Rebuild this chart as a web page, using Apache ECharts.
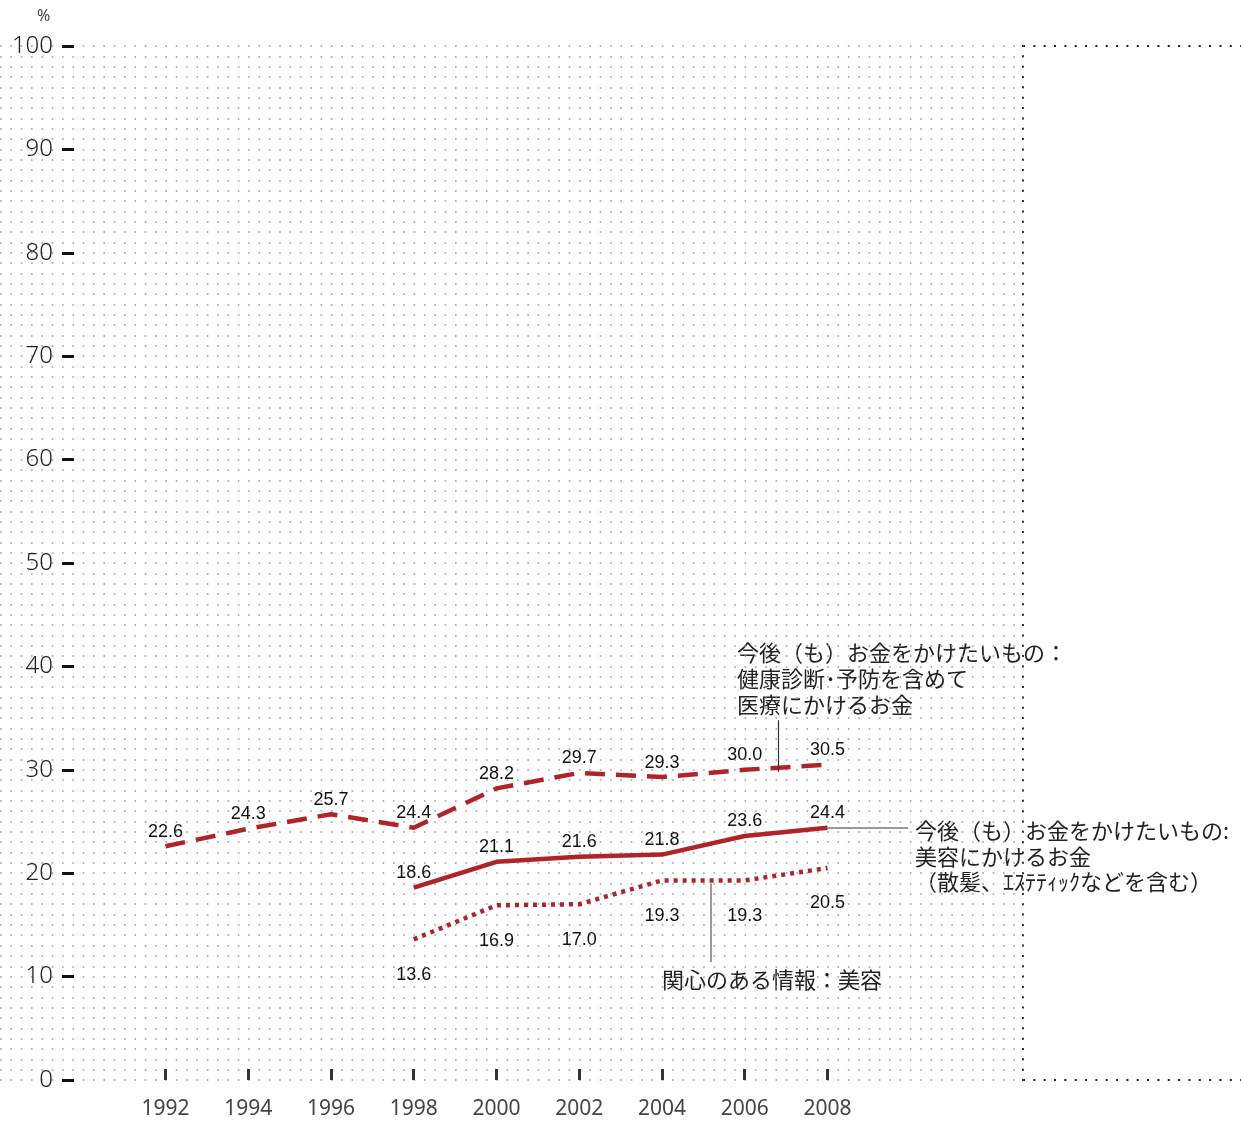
<!DOCTYPE html>
<html>
<head>
<meta charset="utf-8">
<script src="https://cdn.jsdelivr.net/npm/echarts@6/dist/echarts.min.js"></script>
<style>
  html, body { margin: 0; padding: 0; background: #fff; }
  #chart { width: 1241px; height: 1122px; }
</style>
</head>
<body>
<div id="chart"></div>
<script>
const years = [1992, 1994, 1996, 1998, 2000, 2002, 2004, 2006, 2008]
const yTicks = [0, 10, 20, 30, 40, 50, 60, 70, 80, 90, 100]

// 今後（も）お金をかけたいもの：健康診断・予防を含めて医療にかけるお金
const medical = [22.6, 24.3, 25.7, 24.4, 28.2, 29.7, 29.3, 30.0, 30.5]
// 今後（も）お金をかけたいもの：美容にかけるお金
const beautySpend = [null, null, null, 18.6, 21.1, 21.6, 21.8, 23.6, 24.4]
// 関心のある情報：美容
const beautyInterest = [null, null, null, 13.6, 16.9, 17.0, 19.3, 19.3, 20.5]

const RED = '#b0232a'
const toPairs = (vals) => years.map((y, i) => [y, vals[i]]).filter((p) => p[1] != null)

const labelStyle = {
  show: true,
  fontFamily: '"Liberation Sans", Arial, sans-serif',
  fontSize: 18,
  color: '#111',
  formatter: (p) => p.value[1].toFixed(1),
}

// invisible symbols so that the value labels are still drawn
const hiddenSymbol = {
  symbol: 'circle',
  symbolSize: 1,
  itemStyle: { color: 'rgba(0,0,0,0)' },
}

const chart = echarts.init(document.getElementById('chart'))

chart.setOption({
  animation: false,
  grid: { left: 0, right: 217, top: 46, bottom: 42 },
  xAxis: {
    type: 'value',
    min: 1988,
    max: 2012.75,
    splitLine: { show: false },
    axisLine: { show: false },
    axisTick: {
      show: true,
      inside: true,
      length: 11,
      customValues: years,
      lineStyle: { color: '#333', width: 3 },
    },
    axisLabel: {
      customValues: years,
      margin: 19,
      fontFamily: 'Noto Sans, sans-serif',
      fontSize: 21,
      color: '#444',
      formatter: (v) => String(v),
    },
  },
  yAxis: [
    {
      type: 'value',
      min: 0,
      max: 100,
      interval: 10,
      offset: -74,
      splitLine: { show: false },
      axisLine: { show: false },
      axisTick: { show: true, length: 12, lineStyle: { color: '#111', width: 3 } },
      axisLabel: {
        margin: 21,
        fontFamily: 'Noto Sans, sans-serif',
        fontWeight: 300,
        fontSize: 24,
        color: '#222',
      },
    },
    {
      type: 'value',
      min: 0,
      max: 100,
      interval: 1,
      axisLine: { show: false },
      axisTick: { show: false },
      axisLabel: { show: false },
      splitLine: {
        show: true,
        lineStyle: { color: '#9a9a9a', width: 1.6, type: [1.6, 8.74] },
      },
    },
  ],
  series: [
    {
      name: '医療',
      type: 'line',
      data: toPairs(medical),
      ...hiddenSymbol,
      lineStyle: { color: RED, width: 4.5, type: [20, 11] },
      label: { ...labelStyle, position: 'top', distance: 5 },
      markLine: {
        silent: true,
        symbol: 'none',
        label: { show: false },
        lineStyle: { color: '#333', width: 1.2, type: 'solid' },
        data: [[{ coord: [2006.8, 29.8] }, { coord: [2006.8, 34.8] }]],
      },
    },
    {
      name: '美容',
      type: 'line',
      data: toPairs(beautySpend),
      ...hiddenSymbol,
      lineStyle: { color: RED, width: 4.5 },
      label: { ...labelStyle, position: 'top', distance: 5 },
      markLine: {
        silent: true,
        symbol: 'none',
        label: { show: false },
        lineStyle: { color: '#777', width: 1.5, type: 'solid' },
        data: [[{ coord: [2008, 24.4] }, { coord: [2009.95, 24.4] }]],
      },
    },
    {
      name: '関心',
      type: 'line',
      data: toPairs(beautyInterest),
      ...hiddenSymbol,
      lineStyle: { color: RED, width: 4.5, type: [4, 5] },
      label: { ...labelStyle, position: 'bottom', distance: 26 },
      markLine: {
        silent: true,
        symbol: 'none',
        label: { show: false },
        lineStyle: { color: '#777', width: 1.5, type: 'solid' },
        data: [[{ coord: [2005.18, 19.0] }, { coord: [2005.18, 11.4] }]],
      },
    },
  ],
  graphic: [
    {
      type: 'text', left: 37, top: 8,
      style: { text: '%', fontFamily: 'Noto Sans, sans-serif', fontSize: 16, fill: '#444' },
    },
    {
      type: 'line', silent: true,
      shape: { x1: 1023, y1: 46, x2: 1241, y2: 46 },
      style: { stroke: '#222', lineWidth: 2, lineDash: [2, 8.34] },
    },
    {
      type: 'line', silent: true,
      shape: { x1: 1023, y1: 1080, x2: 1241, y2: 1080 },
      style: { stroke: '#222', lineWidth: 2, lineDash: [2, 8.34] },
    },
    {
      type: 'line', silent: true,
      shape: { x1: 1023, y1: 45, x2: 1023, y2: 1081 },
      style: { stroke: '#222', lineWidth: 2, lineDash: [2, 8.34] },
    },
    {
      type: 'text', left: 737, top: 640,
      style: {
        text: '今後（も）お金をかけたいもの：\n健康診断･予防を含めて\n医療にかけるお金',
        fontFamily: 'Noto Sans CJK JP, sans-serif', fontSize: 22, lineHeight: 26, fill: '#222',
      },
    },
    {
      type: 'text', left: 915, top: 818,
      style: {
        text: '今後（も）お金をかけたいもの:\n美容にかけるお金\n（散髪、ｴｽﾃﾃｨｯｸなどを含む）',
        fontFamily: 'Noto Sans CJK JP, sans-serif', fontSize: 22, lineHeight: 25.5, fill: '#222',
      },
    },
    {
      type: 'text', left: 662, top: 967,
      style: {
        text: '関心のある情報：美容',
        fontFamily: 'Noto Sans CJK JP, sans-serif', fontSize: 22, lineHeight: 26, fill: '#222',
      },
    },
  ],
})
</script>
</body>
</html>
